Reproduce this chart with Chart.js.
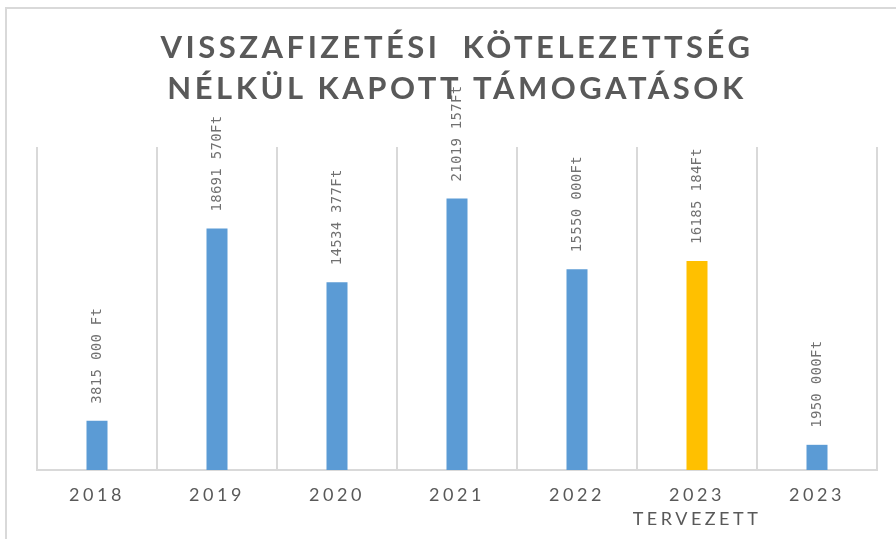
<!DOCTYPE html>
<html>
<head>
<meta charset="utf-8">
<script src="https://cdn.jsdelivr.net/npm/chart.js@4"></script>
<style>
  html, body { margin: 0; padding: 0; background: #fff; }
  #wrap { width: 896px; height: 539px; }
</style>
</head>
<body>
<div id="wrap"><canvas id="bar-chart" width="896" height="539"></canvas></div>
<script>
const years = [["2018"], ["2019"], ["2020"], ["2021"], ["2022"], ["2023", "TERVEZETT"], ["2023"]]
const amounts = [3815000, 18691570, 14534377, 21019157, 15550000, 16185184, 1950000]
const amountLabels = [
  "3815 000 Ft",
  "18691 570Ft",
  "14534 377Ft",
  "21019 157Ft",
  "15550 000Ft",
  "16185 184Ft",
  "1950 000Ft",
]
const barColors = ["#5b9bd5", "#5b9bd5", "#5b9bd5", "#5b9bd5", "#5b9bd5", "#ffc000", "#5b9bd5"]

// frame, letter spacing and rotated value labels
const extras = {
  id: "extras",
  beforeDraw(chart) {
    const ctx = chart.ctx
    ctx.save()
    ctx.strokeStyle = "#d9d9d9"
    ctx.lineWidth = 2
    ctx.beginPath()
    ctx.moveTo(6, 540)
    ctx.lineTo(6, 8)
    ctx.lineTo(900, 8)
    ctx.stroke()
    ctx.restore()
    ctx.letterSpacing = "3.5px"
  },
  beforeDatasetsDraw(chart) {
    chart.ctx.letterSpacing = "4px"
  },
  afterDatasetsDraw(chart) {
    const ctx = chart.ctx
    const meta = chart.getDatasetMeta(0)
    ctx.save()
    ctx.letterSpacing = "0.3px"
    ctx.font = "14px 'DejaVu Sans Mono'"
    ctx.fillStyle = "#707070"
    ctx.textAlign = "left"
    ctx.textBaseline = "middle"
    meta.data.forEach((bar, i) => {
      ctx.save()
      ctx.translate(bar.x, bar.y - 17)
      ctx.rotate(-Math.PI / 2)
      ctx.fillText(amountLabels[i], 0, 0)
      ctx.restore()
    })
    ctx.restore()
    ctx.letterSpacing = "4px"
  },
}

const ctx = document.getElementById("bar-chart")

const barChart = new Chart(ctx, {
  type: "bar",
  data: {
    labels: years,
    datasets: [
      {
        data: amounts,
        backgroundColor: barColors,
        borderWidth: 0,
        categoryPercentage: 1,
        barPercentage: 0.175,
      },
    ],
  },
  options: {
    responsive: false,
    animation: false,
    layout: {
      padding: { left: 37, right: 19, top: 0, bottom: 0 },
    },
    plugins: {
      legend: { display: false },
      tooltip: { enabled: false },
      title: {
        display: true,
        text: ["VISSZAFIZETÉSI  KÖTELEZETTSÉG", "NÉLKÜL KAPOTT TÁMOGATÁSOK"],
        color: "#595959",
        font: { family: "Lato", size: 31, weight: "bold", lineHeight: 1.34 },
        padding: { top: 27, bottom: 37 },
      },
    },
    scales: {
      x: {
        z: 1,
        afterFit(scale) {
          scale.height = 69
        },
        grid: {
          color: "#d9d9d9",
          lineWidth: 2,
          drawTicks: false,
          offset: true,
        },
        border: { color: "#d9d9d9", width: 2 },
        ticks: {
          color: "#595959",
          font: { family: "Lato", size: 18, lineHeight: 1.33 },
          padding: 13,
          maxRotation: 0,
          autoSkip: false,
        },
      },
      y: {
        display: false,
        min: 0,
        max: 25000000,
      },
    },
  },
  plugins: [extras],
})
</script>
</body>
</html>
